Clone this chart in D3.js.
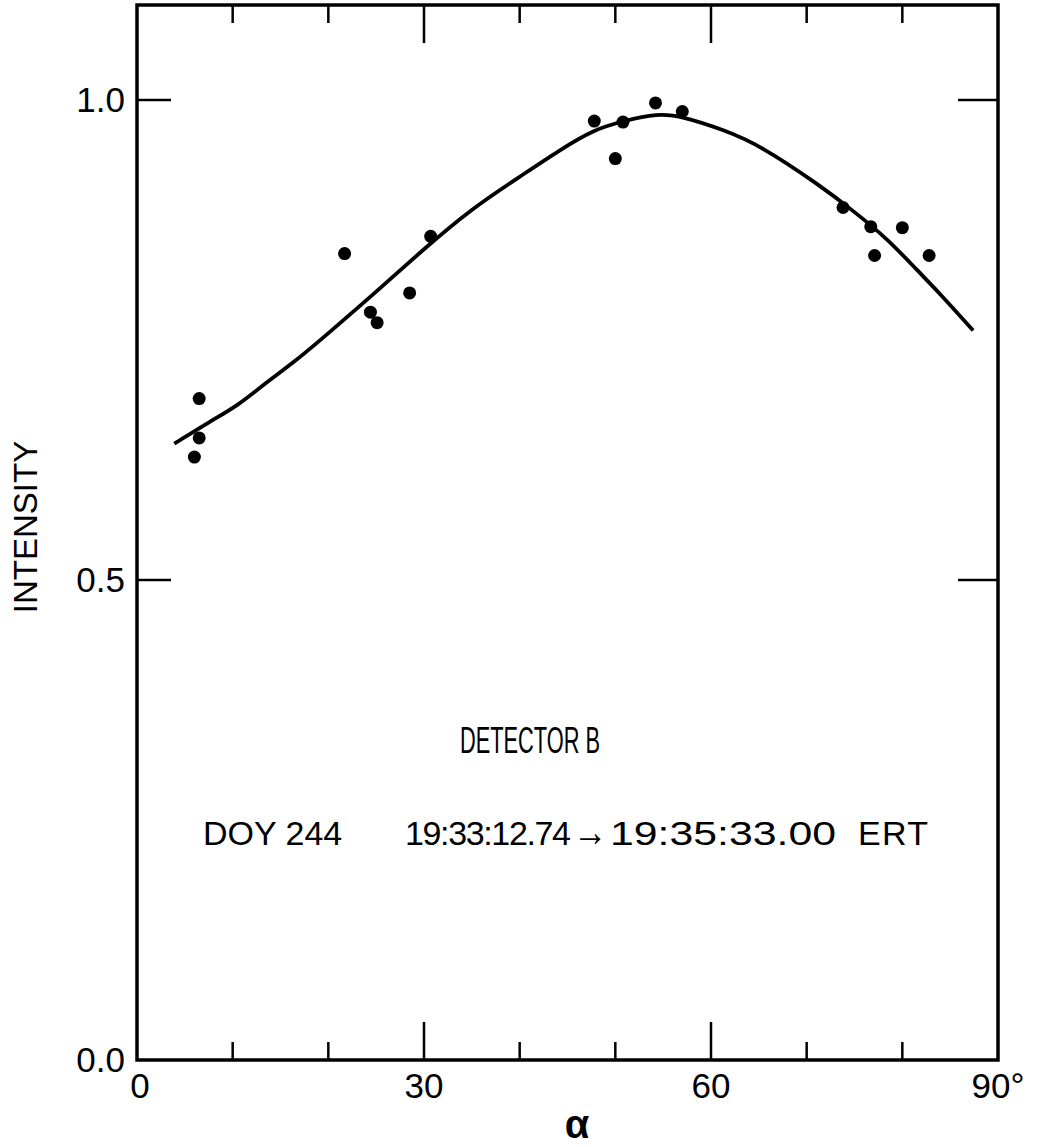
<!DOCTYPE html>
<html>
<head>
<meta charset="utf-8">
<script src="https://cdn.jsdelivr.net/npm/d3@7"></script>
<style>
  body { margin: 0; background: #fff; }
  text { font-family: "Liberation Sans", Arial, sans-serif; fill: #000; }
</style>
</head>
<body>
<script>
// measured points (alpha in degrees, normalised intensity)
var pointAlpha = [6.0, 6.5, 6.5, 21.7, 24.4, 25.1, 28.5, 30.7, 47.8, 50.0, 50.8, 54.2, 57.0, 73.8, 76.7, 77.1, 80.0, 82.8];
var pointIntensity = [0.628, 0.648, 0.689, 0.840, 0.779, 0.768, 0.799, 0.858, 0.978, 0.939, 0.977, 0.997, 0.988, 0.888, 0.868, 0.838, 0.867, 0.838];

// fitted curve
var curveAlpha = [3.9, 7.6, 10.6, 13.4, 16.7, 20, 25, 30, 35, 40, 44.2, 47.7, 50.8, 54.4, 57.0, 61.3, 65.1, 71.4, 74.8, 78.4, 81.8, 83.6, 87.4];
var curveIntensity = [0.642, 0.665, 0.682, 0.705, 0.729, 0.757, 0.800, 0.845, 0.887, 0.920, 0.948, 0.969, 0.978, 0.986, 0.983, 0.969, 0.953, 0.911, 0.885, 0.856, 0.820, 0.802, 0.760];

var xTicks = [10, 20, 30, 40, 50, 60, 70, 80];
var xMajor = [30, 60];
var xLabels = ["0", "30", "60", "90"];
var yTicks = [0.5, 1.0];
var yLabels = ["0.0", "0.5", "1.0"];

var width = 1042, height = 1147;
var plotLeft = 137, plotRight = 998, plotTop = 5, plotBottom = 1060;

var svg = d3.select("body").append("svg")
    .attr("width", width)
    .attr("height", height);

var x = d3.scaleLinear().domain([0, 90]).range([plotLeft, plotRight]);
var y = d3.scaleLinear().domain([0, 1]).range([plotBottom, 100]);

// frame
svg.append("rect")
    .attr("x", plotLeft).attr("y", plotTop)
    .attr("width", plotRight - plotLeft).attr("height", plotBottom - plotTop)
    .attr("fill", "none").attr("stroke", "#000").attr("stroke-width", 3.5);

function tickLen(d) { return xMajor.includes(d) ? 38 : 18; }

// x ticks, bottom (pointing up) and top (pointing down)
svg.append("g").selectAll("line").data(xTicks).enter().append("line")
    .attr("x1", d => x(d)).attr("x2", d => x(d))
    .attr("y1", plotBottom).attr("y2", d => plotBottom - tickLen(d))
    .attr("stroke", "#000").attr("stroke-width", 2.5);
svg.append("g").selectAll("line").data(xTicks).enter().append("line")
    .attr("x1", d => x(d)).attr("x2", d => x(d))
    .attr("y1", plotTop).attr("y2", d => plotTop + tickLen(d))
    .attr("stroke", "#000").attr("stroke-width", 2.5);

// y ticks left and right
svg.append("g").selectAll("line").data(yTicks).enter().append("line")
    .attr("x1", plotLeft).attr("x2", plotLeft + 34)
    .attr("y1", d => y(d)).attr("y2", d => y(d))
    .attr("stroke", "#000").attr("stroke-width", 2.5);
svg.append("g").selectAll("line").data(yTicks).enter().append("line")
    .attr("x1", plotRight).attr("x2", plotRight - 40)
    .attr("y1", d => y(d)).attr("y2", d => y(d))
    .attr("stroke", "#000").attr("stroke-width", 2.5);

// tick labels
svg.append("g").selectAll("text").data(xLabels).enter().append("text")
    .attr("x", d => x(+d) + (d == "0" ? 3 : 0))
    .attr("y", 1098)
    .attr("text-anchor", "middle")
    .attr("font-size", 35)
    .text(d => d)
  .filter(d => d == "90")
    .append("tspan").text("°");

svg.append("g").selectAll("text").data(yLabels).enter().append("text")
    .attr("x", 125)
    .attr("y", d => y(+d) + 12)
    .attr("text-anchor", "end")
    .attr("font-size", 35)
    .text(d => d);

// axis titles
svg.append("text")
    .attr("x", 577).attr("y", 1138)
    .attr("text-anchor", "middle")
    .attr("font-size", 40)
    .attr("font-weight", "bold")
    .attr("font-family", "DejaVu Sans")
    .text("α");

svg.append("text")
    .attr("transform", "translate(37,527) rotate(-90)")
    .attr("text-anchor", "middle")
    .attr("font-size", 33)
    .text("INTENSITY");

// annotation
svg.append("text")
    .attr("x", 460).attr("y", 753)
    .attr("font-size", 37)
    .attr("textLength", 140)
    .attr("lengthAdjust", "spacingAndGlyphs")
    .text("DETECTOR B");

var ann = svg.append("g").attr("font-size", 34);
ann.append("text").attr("x", 203).attr("y", 845).text("DOY 244");
ann.append("text").attr("x", 405).attr("y", 845).attr("textLength", 166).attr("lengthAdjust", "spacing").text("19:33:12.74");
ann.append("text").attr("x", 573).attr("y", 846).attr("font-size", 42).attr("font-weight", "bold")
    .attr("font-family", "DejaVu Sans").attr("textLength", 34).attr("lengthAdjust", "spacingAndGlyphs").text("→");
ann.append("text").attr("x", 610).attr("y", 845).attr("textLength", 226).attr("lengthAdjust", "spacingAndGlyphs").text("19:35:33.00");
ann.append("text").attr("x", 858).attr("y", 845).attr("textLength", 70).attr("lengthAdjust", "spacing").text("ERT");

// fitted curve
var line = d3.line()
    .x(d => x(d[0]))
    .y(d => y(d[1]))
    .curve(d3.curveBasis);

svg.append("path")
    .datum(d3.zip(curveAlpha, curveIntensity))
    .attr("d", line)
    .attr("fill", "none")
    .attr("stroke", "#000")
    .attr("stroke-width", 3.8);

// data points
svg.append("g").selectAll("circle")
    .data(d3.zip(pointAlpha, pointIntensity))
    .enter().append("circle")
    .attr("cx", d => x(d[0]))
    .attr("cy", d => y(d[1]))
    .attr("r", 6.5)
    .attr("fill", "#000");
</script>
</body>
</html>
